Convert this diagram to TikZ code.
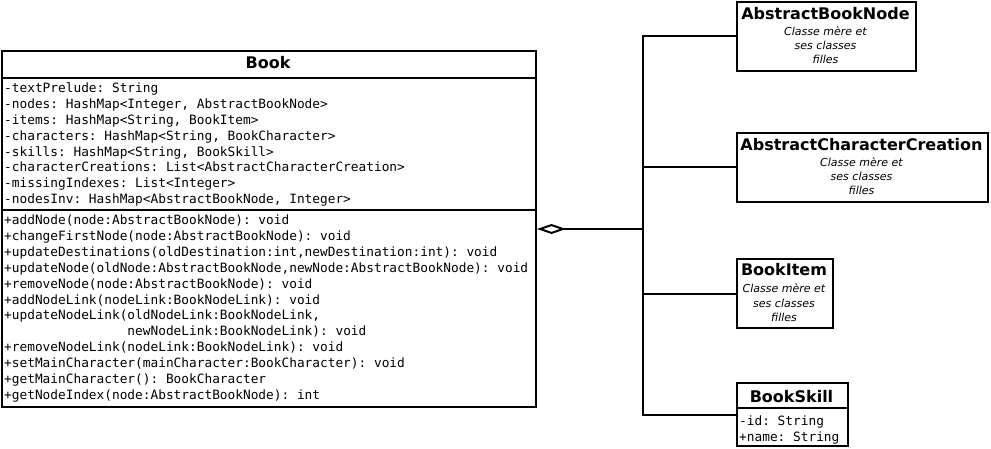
\documentclass[tikz,border=0pt]{standalone}
\usepackage{fontspec}
\setmainfont{DejaVu Sans}
\setmonofont{DejaVu Sans Mono}
\usetikzlibrary{arrows.meta}
\begin{document}
\begin{tikzpicture}[x=1pt,y=-1pt,
  box/.style={draw,line width=2pt,anchor=north west,inner sep=0pt},
  ttl/.style={font=\fontsize{16}{18}\selectfont\bfseries,anchor=base,inner sep=0pt},
  mono/.style={font=\fontsize{12.8}{15}\ttfamily,anchor=base west,inner sep=0pt},
  note/.style={font=\fontsize{11}{14}\selectfont\itshape,anchor=base,inner sep=0pt},
  conn/.style={line width=2pt}]
\useasboundingbox (0,0) rectangle (991,449);
% Book
\node[box,minimum width=534pt,minimum height=356pt] (book) at (1,50) {};
\node[ttl] (booktitle) at (268,69) {Book};
\draw[line width=2pt] (1,78) -- (535,78);
\draw[line width=2pt] (1,210) -- (535,210);
\foreach \t [count=\i from 0] in {{-textPrelude: String},{-nodes: HashMap<Integer, AbstractBookNode>},{-items: HashMap<String, BookItem>},{-characters: HashMap<String, BookCharacter>},{-skills: HashMap<String, BookSkill>},{-characterCreations: List<AbstractCharacterCreation>},{-missingIndexes: List<Integer>},{-nodesInv: HashMap<AbstractBookNode, Integer>}}
  \node[mono] (attr\i) at (4,{92.5+15.9*\i}) {\t};
\foreach \t [count=\i from 0] in {{+addNode(node:AbstractBookNode): void},{+changeFirstNode(node:AbstractBookNode): void},{+updateDestinations(oldDestination:int,newDestination:int): void},{+updateNode(oldNode:AbstractBookNode,newNode:AbstractBookNode): void},{+removeNode(node:AbstractBookNode): void},{+addNodeLink(nodeLink:BookNodeLink): void},{+updateNodeLink(oldNodeLink:BookNodeLink,},{\phantom{+updateNodeLink(}newNodeLink:BookNodeLink): void},{+removeNodeLink(nodeLink:BookNodeLink): void},{+setMainCharacter(mainCharacter:BookCharacter): void},{+getMainCharacter(): BookCharacter},{+getNodeIndex(node:AbstractBookNode): int}}
  \node[mono] (meth\i) at (4,{224.5+15.9*\i}) {\t};
% AbstractBookNode
\node[box,minimum width=179pt,minimum height=69pt] (abn) at (736,1) {};
\node[ttl] (abnt) at (825.5,20) {AbstractBookNode};
\node[note] (abn1) at (825.5,36) {Classe mère et};
\node[note] (abn2) at (825.5,50) {ses classes};
\node[note] (abn3) at (825.5,64) {filles};
% AbstractCharacterCreation
\node[box,minimum width=251pt,minimum height=69pt] (acc) at (736,132) {};
\node[ttl] (acct) at (861.5,151) {AbstractCharacterCreation};
\node[note] (acc1) at (861.5,166.5) {Classe mère et};
\node[note] (acc2) at (861.5,181) {ses classes};
\node[note] (acc3) at (861.5,195) {filles};
% BookItem
\node[box,minimum width=96pt,minimum height=69pt] (item) at (736,258) {};
\node[ttl] (itemt) at (784,276) {BookItem};
\node[note] (item1) at (784,293) {Classe mère et};
\node[note] (item2) at (784,307) {ses classes};
\node[note] (item3) at (784,321) {filles};
% BookSkill
\node[box,minimum width=111pt,minimum height=63pt] (skill) at (736,382) {};
\node[ttl] (skillt) at (791.5,402) {BookSkill};
\draw[line width=2pt] (736,408) -- (847,408);
\node[mono] (sk1) at (739,425.5) {-id: String};
\node[mono] (sk2) at (739,441.5) {+name: String};
% connectors
\coordinate (hub) at (643,229);
\draw[conn] (abn.west) -| (hub);
\draw[conn] (acc.west) -| (hub);
\draw[conn] (item.west) -| (hub);
\draw[conn] (skill.west) -| (hub);
\draw[conn,-{Diamond[open,length=29pt,width=10pt]}] (hub) -- (hub -| book.east);
\end{tikzpicture}
\end{document}
